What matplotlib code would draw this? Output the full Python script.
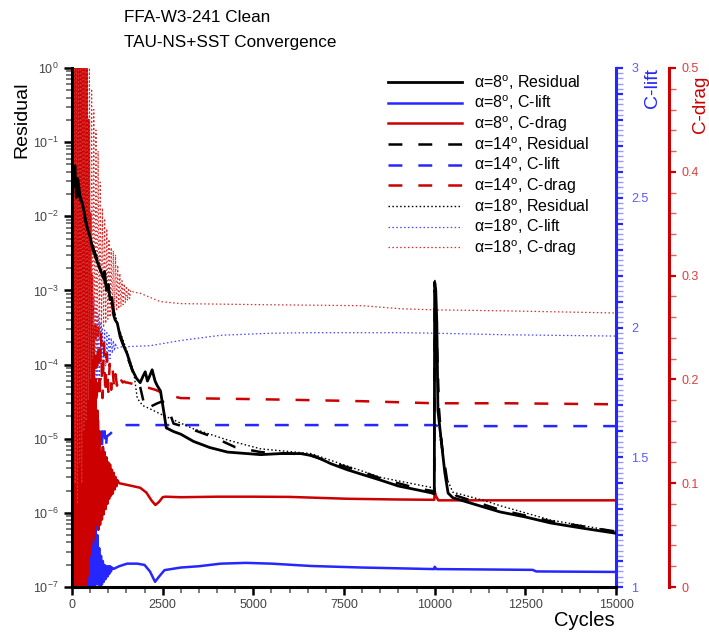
import matplotlib
matplotlib.use("Agg")
import matplotlib.pyplot as plt
from matplotlib.ticker import MultipleLocator, LogLocator, FuncFormatter, NullFormatter

plt.rcParams['font.family'] = ['Liberation Sans', 'DejaVu Sans']
plt.rcParams['mathtext.fontset'] = 'custom'
plt.rcParams['mathtext.rm'] = 'Liberation Sans'
plt.rcParams['mathtext.it'] = 'Liberation Sans:italic'
plt.rcParams['mathtext.bf'] = 'Liberation Sans:bold'
plt.rcParams['lines.scale_dashes'] = False

# ---------------- convergence histories ----------------
# alpha = 8 deg
res8_cyc = [0, 40, 80, 120, 160, 220, 300, 415, 500, 580, 700, 860, 900, 950, 1000, 1050, 1100,
            1150, 1190, 1250, 1330, 1420, 1520, 1660, 1780, 1880, 1960, 2020, 2080, 2130, 2210,
            2290, 2350, 2440, 2520, 2600, 2800, 3000, 3350, 3800, 4290, 5200, 5750, 6310, 6700,
            7140, 7600, 8000, 8520, 9000, 9500, 9910, 9990, 10000, 10030, 10060, 10090, 10200,
            10280, 10370, 10500, 11000, 11800, 12500, 13200, 14000, 15000]
res8_val = [5.7e-2, 2.5e-2, 4.8e-2, 1.8e-2, 3.2e-2, 1.9e-2, 1.4e-2, 7.2e-3, 5.2e-3, 3.5e-3, 2.4e-3,
            1.5e-3, 1.8e-3, 1.0e-3, 1.2e-3, 7.5e-4, 8.0e-4, 4.6e-4, 4.0e-4, 3.6e-4, 2.35e-4, 1.8e-4,
            1.4e-4, 8.5e-5, 6.5e-5, 5.7e-5, 7.0e-5, 8.0e-5, 6.0e-5, 6.8e-5, 8.5e-5, 6.0e-5, 5.2e-5,
            4.4e-5, 2.5e-5, 1.4e-5, 1.25e-5, 1.15e-5, 9.2e-6, 7.6e-6, 6.6e-6, 6.1e-6, 6.3e-6,
            6.3e-6, 5.8e-6, 4.6e-6, 3.8e-6, 3.3e-6, 2.75e-6, 2.3e-6, 2.05e-6, 1.86e-6, 1.8e-6,
            1.3e-3, 1.0e-3, 3.6e-4, 2.4e-5, 7.8e-6, 3.5e-6, 1.85e-6, 1.6e-6, 1.35e-6, 1.03e-6,
            8.8e-7, 7.3e-7, 6.3e-7, 5.3e-7]

cl8_cyc = [0, 25, 50, 75, 100, 125, 150, 175, 200, 225, 250, 275, 300, 325, 350, 375, 400, 425, 450,
           475, 500, 525, 550, 575, 600, 625, 650, 675, 700, 725, 750, 775, 800, 825, 850, 875, 900,
           925, 950, 975, 1000, 1025, 1050, 1075, 1100, 1150, 1300, 1520, 1800, 2000, 2150, 2290,
           2400, 2550, 3000, 3500, 4100, 4800, 5500, 6590, 8000, 9990, 10000, 10050, 11000, 12700,
           12800, 15000]
cl8_val = [3.1, 0.95, 3.05, 0.97, 2.9, 0.95, 2.8, 0.98, 2.6, 0.96, 2.4, 0.97, 2.2, 0.98, 2.0, 0.99,
           1.8, 0.98, 1.75, 1.0, 1.6, 0.99, 1.45, 1.0, 1.32, 1.0, 1.25, 1.01, 1.2, 1.01, 1.15, 1.0,
           1.12, 1.01, 1.1, 1.02, 1.085, 1.03, 1.08, 1.04, 1.08, 1.05, 1.08, 1.06, 1.075, 1.07, 1.08,
           1.09, 1.09, 1.085, 1.06, 1.02, 1.04, 1.065, 1.075, 1.08, 1.09, 1.093, 1.09, 1.081, 1.075,
           1.069, 1.078, 1.069, 1.068, 1.066, 1.06, 1.058]

cd8_cyc = [0, 25, 50, 75, 100, 125, 150, 175, 200, 225, 250, 275, 300, 325, 350, 375, 400, 425, 450,
           475, 500, 525, 550, 575, 600, 625, 650, 675, 700, 725, 750, 775,
           800, 825, 850, 875, 900, 925, 950, 975, 1000, 1025, 1050, 1075, 1100, 1125, 1150, 1175,
           1200, 1225, 1250, 1300, 1500, 1700, 1880, 2050, 2200, 2300, 2400, 2500, 2570, 3000, 4000,
           5000, 6000, 7600, 9000, 9990, 10000, 10030, 10100, 12000, 15000]
cd8_val = [0.58, -0.05, 0.6, -0.04, 0.57, -0.06, 0.6, -0.03, 0.56, -0.05, 0.58, -0.02, 0.55, -0.04,
           0.52, 0.0, 0.5, 0.01, 0.45, 0.03, 0.36, 0.04, 0.3, 0.05, 0.25, 0.045, 0.2, 0.06, 0.17,
           0.055, 0.15, 0.06,
           0.13, 0.065, 0.135, 0.07, 0.13, 0.075, 0.125, 0.08, 0.12, 0.085, 0.118, 0.088, 0.113,
           0.09, 0.11, 0.094, 0.106, 0.097, 0.103, 0.100, 0.0985, 0.097, 0.0956, 0.091, 0.083,
           0.079, 0.082, 0.0865, 0.087, 0.0865, 0.087, 0.087, 0.0868, 0.085, 0.0843, 0.084, 0.093,
           0.088, 0.0835, 0.0835, 0.0835]

# alpha = 14 deg
res14_cyc = [0, 60, 140, 250, 400, 580, 800, 1050, 1300, 1520, 1700, 1880, 2020, 2350, 2500, 2700,
             2800, 3200, 3900, 4500, 5200, 6000, 6500, 7140, 8000, 8520, 9500, 9990, 10000, 10040,
             10070, 10120, 10200, 10350, 10600, 11800, 13200, 15000]
res14_val = [6.0e-2, 3.5e-2, 2.5e-2, 1.5e-2, 7.5e-3, 3.8e-3, 1.9e-3, 8.0e-4, 2.8e-4, 1.3e-4, 7.5e-5,
             5.0e-5, 2.5e-5, 3.0e-5, 3.2e-5, 2.2e-5, 1.6e-5, 1.4e-5, 1.05e-5, 7.7e-6, 6.6e-6, 6.3e-6,
             6.1e-6, 4.8e-6, 3.6e-6, 2.9e-6, 2.15e-6, 1.95e-6, 1.0e-3, 6.0e-4, 1.5e-4, 2.5e-5,
             8.0e-6, 2.6e-6, 1.7e-6, 1.1e-6, 7.7e-7, 5.6e-7]

cl14_cyc = [0, 30, 60, 90, 120, 150, 180, 210, 240, 270, 300, 330, 360, 390, 420, 450,
            480, 510, 540, 570, 600, 630, 660, 690, 720, 750, 780, 810, 840, 870, 900, 930, 960,
            1050, 1250, 1500, 3000, 6000, 10000, 10100, 15000]
cl14_val = [3.0, 1.0, 2.8, 1.05, 2.6, 1.1, 2.4, 1.15, 2.2, 1.2, 2.0, 1.25, 1.9, 1.3, 1.8, 1.32,
            1.72, 1.3, 1.7, 1.32, 1.68, 1.35, 1.66, 1.38, 1.65, 1.42, 1.63, 1.46, 1.6, 1.5, 1.6,
            1.53, 1.58, 1.59, 1.617, 1.624, 1.624, 1.624, 1.624, 1.62, 1.62]

cd14_cyc = [0, 30, 60, 90, 120, 150, 180, 210, 240, 270, 300, 330, 360, 390, 420, 450,
            480, 520, 560, 600, 640, 680, 720, 760, 800, 840, 880, 920, 960, 1000, 1040, 1080,
            1120, 1160, 1200, 1240, 1280, 1320, 1360, 1400, 1440, 1480,
            1520, 2000, 2300, 2630, 3000, 5000, 6590, 8000, 10000, 12000, 15000]
cd14_val = [0.55, 0.0, 0.5, 0.05, 0.52, 0.02, 0.48, 0.06, 0.45, 0.08, 0.42, 0.1, 0.38, 0.12, 0.35,
            0.14, 0.3, 0.16, 0.27, 0.17, 0.26, 0.175, 0.25, 0.18, 0.245, 0.182, 0.235, 0.185, 0.225,
            0.188, 0.215, 0.19, 0.21, 0.192, 0.205, 0.194, 0.202, 0.196, 0.199, 0.197, 0.198, 0.197,
            0.197, 0.193, 0.19, 0.185, 0.182, 0.181, 0.18, 0.179, 0.177, 0.177, 0.176]

# alpha = 18 deg
res18_cyc = [0, 50, 130, 250, 400, 580, 800, 1050, 1300, 1520, 1700, 1800, 1950, 2100, 2440, 3350,
             4290, 5200, 6590, 7140, 8520, 9910, 9990, 10000, 10025, 10050, 10080, 10150, 10300,
             10500, 11400, 11800, 13200, 15000]
res18_val = [5.0e-2, 4.0e-2, 2.8e-2, 1.6e-2, 8.0e-3, 4.0e-3, 2.0e-3, 8.5e-4, 3.0e-4, 1.5e-4, 8.0e-5,
             3.5e-5, 2.8e-5, 2.6e-5, 2.15e-5, 1.36e-5, 9.6e-6, 7.3e-6, 6.3e-6, 5.1e-6, 3.0e-6,
             2.2e-6, 2.15e-6, 1.4e-3, 1.2e-3, 4.0e-4, 5.0e-5, 1.0e-5, 3.2e-6, 1.9e-6, 1.45e-6,
             1.25e-6, 8.0e-7, 5.6e-7]

cl18_cyc = [0, 30, 60, 90, 120, 150, 180, 210, 240, 270, 300, 330, 360, 390, 420, 450, 480, 510, 540,
            570, 600, 630, 660, 690, 720, 750, 780, 810, 840, 870, 900, 930, 960, 990, 1020, 1050,
            1080, 1110, 1140, 1170, 1200, 1230,
            1330, 2160, 3000, 4100, 5500, 6590, 9080, 10000, 12000, 15000]
cl18_val = [3.1, 1.0, 3.05, 1.05, 3.0, 1.1, 2.95, 1.2, 2.8, 1.3, 2.6, 1.4, 2.45, 1.5, 2.3, 1.6, 2.2,
            1.65, 2.15, 1.7, 2.12, 1.72, 2.08, 1.75, 2.05, 1.78, 2.02, 1.8, 2.0, 1.82, 1.99, 1.85,
            1.98, 1.87, 1.97, 1.88, 1.96, 1.9, 1.95, 1.91, 1.94, 1.92,
            1.925, 1.93, 1.95, 1.97, 1.978, 1.98, 1.98, 1.978, 1.972, 1.967]

cd18_cyc = [0, 30, 60, 90, 120, 150, 180, 210, 240, 270, 300, 330, 360, 390, 420, 450, 480, 510, 540,
            570, 600, 630, 660, 690, 720, 750, 780, 810, 840, 870, 900, 930, 960, 990, 1020, 1050,
            1080, 1110, 1140, 1170, 1200, 1230, 1260, 1290, 1320, 1350, 1380, 1410, 1440, 1470,
            1500, 1530, 1560, 1590, 1620,
            1700, 1880, 2430, 3000, 5200, 8000, 9080, 10000, 12000, 15000]
cd18_val = [0.6, 0.05, 0.62, 0.1, 0.6, 0.08, 0.58, 0.12, 0.6, 0.1, 0.56, 0.15, 0.55, 0.16, 0.52,
            0.18, 0.5, 0.2, 0.48,
            0.22, 0.46, 0.225, 0.44, 0.23, 0.42, 0.238, 0.39, 0.245, 0.365, 0.25, 0.355, 0.254,
            0.345, 0.258, 0.335, 0.26, 0.327, 0.262, 0.324, 0.264, 0.32, 0.266, 0.31, 0.268, 0.302,
            0.27, 0.295, 0.272, 0.292, 0.274, 0.29, 0.276, 0.288, 0.278, 0.286,
            0.284, 0.283, 0.275, 0.273, 0.272, 0.271, 0.268, 0.267, 0.266, 0.264]

legend_labels = [r'α=8$^{\mathrm{o}}$, Residual', r'α=8$^{\mathrm{o}}$, C-lift',
                 r'α=8$^{\mathrm{o}}$, C-drag', r'α=14$^{\mathrm{o}}$, Residual',
                 r'α=14$^{\mathrm{o}}$, C-lift', r'α=14$^{\mathrm{o}}$, C-drag',
                 r'α=18$^{\mathrm{o}}$, Residual', r'α=18$^{\mathrm{o}}$, C-lift',
                 r'α=18$^{\mathrm{o}}$, C-drag']

# ---------------- styling ----------------
BLACK = '#000000'
BLUE = '#2626ff'
RED = '#cc0000'
DOT_BLUE = '#4848ff'
DOT_RED = '#d83030'
DASH = (10, 11.5)
DOT = (1.1, 1.7)

W, H = 709, 633
fig = plt.figure(figsize=(W / 100, H / 100), dpi=100)
ax = fig.add_axes([72 / W, 1 - 587 / H, 544 / W, 519 / H])
ax_cl = ax.twinx()
ax_cd = ax.twinx()

ax.set_zorder(3)
ax.patch.set_visible(False)
ax_cl.set_zorder(1)
ax_cd.set_zorder(2)

# lift and drag histories
l_cl8, = ax_cl.plot(cl8_cyc, cl8_val, color=BLUE, lw=1.8)
l_cl14, = ax_cl.plot(cl14_cyc, cl14_val, color=BLUE, lw=1.8, dashes=DASH)
l_cl18, = ax_cl.plot(cl18_cyc, cl18_val, color=DOT_BLUE, lw=0.9, dashes=DOT)
l_cd8, = ax_cd.plot(cd8_cyc, cd8_val, color=RED, lw=1.8)
l_cd14, = ax_cd.plot(cd14_cyc, cd14_val, color=RED, lw=1.8, dashes=DASH)
l_cd18, = ax_cd.plot(cd18_cyc, cd18_val, color=DOT_RED, lw=0.9, dashes=DOT)

# residuals
l_r18, = ax.plot(res18_cyc, res18_val, color=BLACK, lw=1.0, dashes=DOT)
l_r14, = ax.plot(res14_cyc, res14_val, color=BLACK, lw=1.8, dashes=DASH)
l_r8, = ax.plot(res8_cyc, res8_val, color=BLACK, lw=2.0)

ax.set_yscale('log')
ax.set_xlim(0, 15000)
ax.set_ylim(1e-7, 1)
ax_cl.set_ylim(1, 3)
ax_cd.set_ylim(0, 0.5)

# main axes frame
for s in ('top', 'right'):
    ax.spines[s].set_visible(False)
for s in ('left', 'bottom'):
    ax.spines[s].set_linewidth(2.2)
    ax.spines[s].set_color(BLACK)

ax.xaxis.set_major_locator(MultipleLocator(2500))
ax.xaxis.set_minor_locator(MultipleLocator(500))
ax.yaxis.set_major_locator(LogLocator(base=10, numticks=20))
ax.yaxis.set_minor_locator(LogLocator(base=10, subs=range(2, 10), numticks=20))
ax.yaxis.set_minor_formatter(NullFormatter())
ax.tick_params(axis='both', which='major', direction='out', length=6, width=1.8,
               color=BLACK, labelsize=9, labelcolor='#444444')
ax.tick_params(axis='both', which='minor', direction='out', length=4, width=1.1, color='#555555')
ax.tick_params(axis='x', which='major', pad=3)

# lift axis
for s in ('top', 'left', 'bottom'):
    ax_cl.spines[s].set_visible(False)
ax_cl.spines['right'].set_color(BLUE)
ax_cl.spines['right'].set_linewidth(2.2)
ax_cl.yaxis.set_major_locator(MultipleLocator(0.1))
ax_cl.yaxis.set_minor_locator(MultipleLocator(0.02))
ax_cl.yaxis.set_major_formatter(FuncFormatter(
    lambda v, p: ('%g' % round(v, 2)) if abs(v * 2 - round(v * 2)) < 1e-6 else ''))
ax_cl.tick_params(axis='y', which='major', direction='out', length=5, width=1.6,
                  color=BLUE, labelsize=9, labelcolor='#5a5aff', pad=6)
ax_cl.tick_params(axis='y', which='minor', direction='out', length=5, width=1.0, color='#9a9aff')

# drag axis
for s in ('top', 'left', 'bottom'):
    ax_cd.spines[s].set_visible(False)
ax_cd.spines['right'].set_position(('outward', 38))
ax_cd.spines['right'].set_color(RED)
ax_cd.spines['right'].set_linewidth(2.2)
ax_cd.yaxis.set_major_locator(MultipleLocator(0.1))
ax_cd.yaxis.set_minor_locator(MultipleLocator(0.02))
ax_cd.yaxis.set_major_formatter(FuncFormatter(lambda v, p: '%g' % round(v, 2)))
ax_cd.tick_params(axis='y', which='major', direction='out', length=5, width=1.6,
                  color=RED, labelsize=9, labelcolor='#e03c3c', pad=4)
ax_cd.tick_params(axis='y', which='minor', direction='out', length=5, width=1.0, color='#e06060')

# axis titles
fig.text(22 / W, 1 - 120 / H, 'Residual', rotation=90, ha='center', va='center',
         fontsize=14, color=BLACK)
fig.text(615 / W, 1 - 620 / H, 'Cycles', ha='right', va='center', fontsize=14.5, color=BLACK)
fig.text(652 / W, 1 - 88 / H, 'C-lift', rotation=90, ha='center', va='center',
         fontsize=14, color=BLUE)
fig.text(700 / W, 1 - 104 / H, 'C-drag', rotation=90, ha='center', va='center',
         fontsize=13.5, color=RED)
fig.text(124 / W, 1 - 17 / H, 'FFA-W3-241 Clean', ha='left', va='center', fontsize=12.3)
fig.text(124 / W, 1 - 42 / H, 'TAU-NS+SST Convergence', ha='left', va='center', fontsize=12.3)

handles = [l_r8, l_cl8, l_cd8, l_r14, l_cl14, l_cd14, l_r18, l_cl18, l_cd18]
leg = ax.legend(handles, legend_labels, loc='upper left', bbox_to_anchor=(0.581, 0.99),
                frameon=False, fontsize=11.5, handlelength=4.6, handletextpad=0.8,
                labelspacing=0.11, borderpad=0, borderaxespad=0)

fig.savefig('out.png', dpi=100)
